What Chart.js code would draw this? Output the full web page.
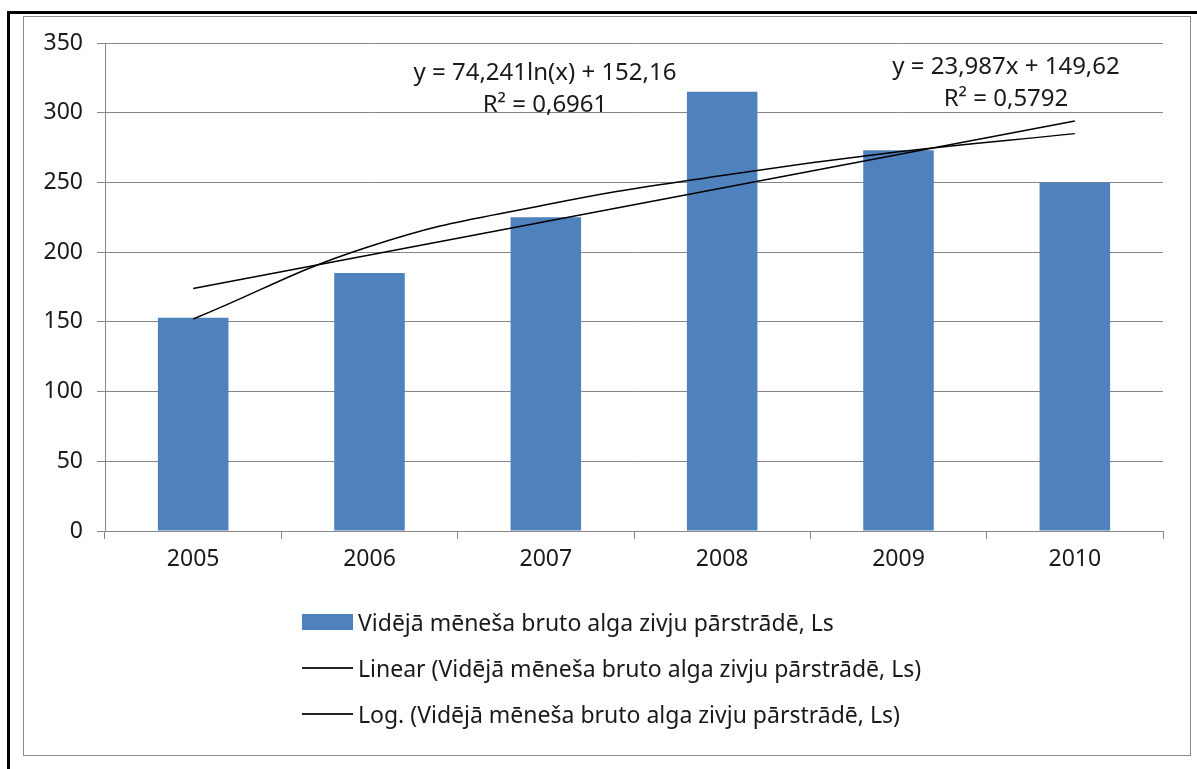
<!DOCTYPE html>
<html>
<head>
<meta charset="utf-8">
<script src="https://cdn.jsdelivr.net/npm/chart.js@4"></script>
<style>
  body { margin: 0; background: #fff; font-family: "Noto Sans", sans-serif; }
  #frame { position: absolute; left: 7px; top: 11px; width: 1190px; height: 758px; border-left: 3px solid #000; border-top: 3px solid #000; }
  #box { position: absolute; left: 23px; top: 16px; width: 1166px; height: 738px; border: 1px solid #8c8c8c; }
  #wrap { position: absolute; left: 0; top: 0; width: 1197px; height: 769px; }
  .eq { position: absolute; font-size: 24px; color: #1a1a1a; text-align: center; white-space: nowrap; line-height: 32px; transform: translateX(-50%); }
  #legend { position: absolute; left: 302px; top: 599px; font-size: 23px; color: #1a1a1a; }
  .item { height: 46px; display: flex; align-items: center; white-space: nowrap; }
  .swatch { width: 51px; margin-right: 5px; }
</style>
</head>
<body>
<div id="frame"></div>
<div id="box"></div>
<div id="wrap"><canvas id="myChart" width="1197" height="769"></canvas></div>
<div class="eq" style="left:545px;top:55px">y = 74,241ln(x) + 152,16<br>R² = 0,6961</div>
<div class="eq" style="left:1006px;top:49px">y = 23,987x + 149,62<br>R² = 0,5792</div>
<div id="legend"></div>
<script>
const years = ['2005', '2006', '2007', '2008', '2009', '2010'];
const wages = [153, 185, 225, 315, 273, 250];
// trend lines at each year
const linearTrend = [174, 198, 222, 246, 270, 294];
const logTrend = [152, 204, 234, 255, 272, 285];
const yTicks = [0, 50, 100, 150, 200, 250, 300, 350];

const seriesName = 'Vidējā mēneša bruto alga zivju pārstrādē, Ls';
const tickFont = { family: '"Noto Sans", sans-serif', size: 23 };

const ctx = document.getElementById('myChart');

const chart = new Chart(ctx, {
  type: 'bar',
  data: {
    labels: years,
    datasets: [{
      label: seriesName,
      data: wages,
      backgroundColor: '#4f81bd',
      barPercentage: 0.4,
      categoryPercentage: 1,
      order: 3
    }, {
      type: 'line',
      label: 'Linear (' + seriesName + ')',
      data: linearTrend,
      borderColor: '#000',
      borderWidth: 1.5,
      pointRadius: 0,
      fill: false,
      order: 1
    }, {
      type: 'line',
      label: 'Log. (' + seriesName + ')',
      data: logTrend,
      borderColor: '#000',
      borderWidth: 1.5,
      pointRadius: 0,
      tension: 0.45,
      fill: false,
      order: 2
    }]
  },
  options: {
    responsive: false,
    animation: false,
    layout: { padding: { left: 0, top: 43, right: 34, bottom: 192 } },
    plugins: { legend: { display: false }, tooltip: { enabled: false } },
    scales: {
      x: {
        grid: { display: true, drawOnChartArea: false, color: '#868686', tickLength: 8, offset: true },
        border: { color: '#868686', width: 1 },
        ticks: { color: '#1a1a1a', font: tickFont, padding: 7 },
        afterFit(scale) { scale.height = 46; }
      },
      y: {
        min: 0,
        max: 350,
        afterBuildTicks(scale) { scale.ticks = yTicks.map(v => ({ value: v })); },
        grid: { color: '#868686', tickLength: 8 },
        border: { color: '#868686', width: 1 },
        ticks: { color: '#1a1a1a', font: tickFont, padding: 14 },
        afterFit(scale) { scale.width = 105; }
      }
    }
  }
});

// legend below the chart
const legend = document.getElementById('legend');
chart.data.datasets.forEach(function (ds, i) {
  const row = document.createElement('div');
  row.className = 'item';
  const sw = document.createElement('span');
  sw.className = 'swatch';
  if (i === 0) {
    sw.style.height = '16px';
    sw.style.background = ds.backgroundColor;
  } else {
    sw.style.height = '2px';
    sw.style.background = '#222';
  }
  row.appendChild(sw);
  row.appendChild(document.createTextNode(ds.label));
  legend.appendChild(row);
});
</script>
</body>
</html>
